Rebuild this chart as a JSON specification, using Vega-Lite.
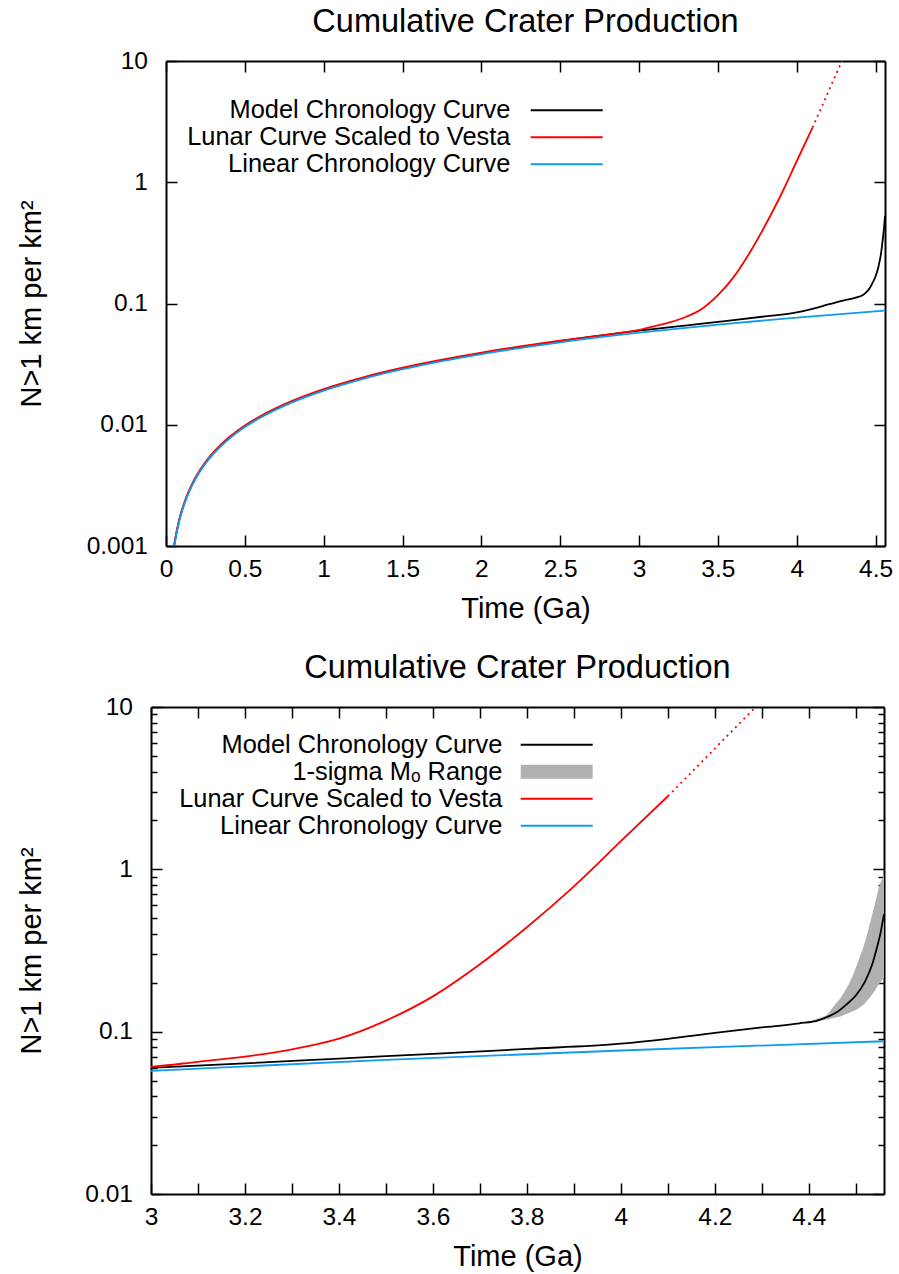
{
  "$schema": "https://vega.github.io/schema/vega-lite/v6.json",
  "background": "white",
  "padding": {"left": 17, "top": 5, "right": 10, "bottom": 4},
  "columns": 1,
  "spacing": 27,
  "resolve": {"scale": {"color": "independent"}, "legend": {"color": "independent"}},
  "config": {
    "font": "Liberation Sans",
    "view": {"stroke": null},
    "axis": {"grid": false, "domainColor": "black", "domainWidth": 2, "tickColor": "black", "tickWidth": 1.5, "labelColor": "black", "titleColor": "black", "labelFont": "Liberation Sans", "titleFont": "Liberation Sans", "labelFontSize": 24.5, "titleFontSize": 29, "titleFontWeight": "normal", "labelFlush": false, "labelOverlap": false, "tickSize": -11},
    "axisX": {"labelPadding": 22, "titlePadding": 14},
    "axisY": {"labelPadding": 29.5},
    "title": {"fontSize": 32.5, "fontWeight": "normal", "color": "black", "font": "Liberation Sans", "frame": "group", "anchor": "middle", "offset": 10},
    "legend": {"orient": "none", "title": null, "labelFontSize": 25.4, "labelFont": "Liberation Sans", "labelColor": "black", "labelLimit": 500, "rowPadding": 0, "padding": 0, "symbolOffset": 0}
  },
  "datasets": {
    "curves": [
      {"t": 0.04, "N": 0.000773, "s": "Model Chronology Curve"},
      {"t": 0.05, "N": 0.000966, "s": "Model Chronology Curve"},
      {"t": 0.06, "N": 0.001159, "s": "Model Chronology Curve"},
      {"t": 0.08, "N": 0.001545, "s": "Model Chronology Curve"},
      {"t": 0.1, "N": 0.001932, "s": "Model Chronology Curve"},
      {"t": 0.13, "N": 0.00251, "s": "Model Chronology Curve"},
      {"t": 0.16, "N": 0.00309, "s": "Model Chronology Curve"},
      {"t": 0.2, "N": 0.00386, "s": "Model Chronology Curve"},
      {"t": 0.25, "N": 0.00483, "s": "Model Chronology Curve"},
      {"t": 0.3, "N": 0.0058, "s": "Model Chronology Curve"},
      {"t": 0.4, "N": 0.00773, "s": "Model Chronology Curve"},
      {"t": 0.5, "N": 0.00966, "s": "Model Chronology Curve"},
      {"t": 0.6, "N": 0.01159, "s": "Model Chronology Curve"},
      {"t": 0.8, "N": 0.01545, "s": "Model Chronology Curve"},
      {"t": 1.0, "N": 0.01932, "s": "Model Chronology Curve"},
      {"t": 1.25, "N": 0.02415, "s": "Model Chronology Curve"},
      {"t": 1.5, "N": 0.02898, "s": "Model Chronology Curve"},
      {"t": 1.75, "N": 0.0339, "s": "Model Chronology Curve"},
      {"t": 2.0, "N": 0.0388, "s": "Model Chronology Curve"},
      {"t": 2.5, "N": 0.049, "s": "Model Chronology Curve"},
      {"t": 3.0, "N": 0.0598, "s": "Model Chronology Curve"},
      {"t": 3.2, "N": 0.0638, "s": "Model Chronology Curve"},
      {"t": 3.4, "N": 0.0683, "s": "Model Chronology Curve"},
      {"t": 3.6, "N": 0.073, "s": "Model Chronology Curve"},
      {"t": 3.8, "N": 0.0783, "s": "Model Chronology Curve"},
      {"t": 4.0, "N": 0.0844, "s": "Model Chronology Curve"},
      {"t": 4.1, "N": 0.0904, "s": "Model Chronology Curve"},
      {"t": 4.2, "N": 0.0982, "s": "Model Chronology Curve"},
      {"t": 4.3, "N": 0.1062, "s": "Model Chronology Curve"},
      {"t": 4.38, "N": 0.1125, "s": "Model Chronology Curve"},
      {"t": 4.42, "N": 0.1175, "s": "Model Chronology Curve"},
      {"t": 4.44, "N": 0.1235, "s": "Model Chronology Curve"},
      {"t": 4.46, "N": 0.132, "s": "Model Chronology Curve"},
      {"t": 4.48, "N": 0.147, "s": "Model Chronology Curve"},
      {"t": 4.5, "N": 0.167, "s": "Model Chronology Curve"},
      {"t": 4.52, "N": 0.205, "s": "Model Chronology Curve"},
      {"t": 4.535, "N": 0.26, "s": "Model Chronology Curve"},
      {"t": 4.545, "N": 0.33, "s": "Model Chronology Curve"},
      {"t": 4.553, "N": 0.41, "s": "Model Chronology Curve"},
      {"t": 4.56, "N": 0.53, "s": "Model Chronology Curve"},
      {"t": 0.04, "N": 0.000788, "s": "Lunar Curve Scaled to Vesta"},
      {"t": 0.05, "N": 0.000985, "s": "Lunar Curve Scaled to Vesta"},
      {"t": 0.06, "N": 0.001182, "s": "Lunar Curve Scaled to Vesta"},
      {"t": 0.08, "N": 0.001576, "s": "Lunar Curve Scaled to Vesta"},
      {"t": 0.1, "N": 0.00197, "s": "Lunar Curve Scaled to Vesta"},
      {"t": 0.13, "N": 0.002561, "s": "Lunar Curve Scaled to Vesta"},
      {"t": 0.16, "N": 0.003152, "s": "Lunar Curve Scaled to Vesta"},
      {"t": 0.2, "N": 0.00394, "s": "Lunar Curve Scaled to Vesta"},
      {"t": 0.25, "N": 0.004925, "s": "Lunar Curve Scaled to Vesta"},
      {"t": 0.3, "N": 0.00591, "s": "Lunar Curve Scaled to Vesta"},
      {"t": 0.4, "N": 0.00788, "s": "Lunar Curve Scaled to Vesta"},
      {"t": 0.5, "N": 0.00985, "s": "Lunar Curve Scaled to Vesta"},
      {"t": 0.6, "N": 0.01182, "s": "Lunar Curve Scaled to Vesta"},
      {"t": 0.8, "N": 0.01576, "s": "Lunar Curve Scaled to Vesta"},
      {"t": 1.0, "N": 0.0197, "s": "Lunar Curve Scaled to Vesta"},
      {"t": 1.25, "N": 0.02463, "s": "Lunar Curve Scaled to Vesta"},
      {"t": 1.5, "N": 0.02955, "s": "Lunar Curve Scaled to Vesta"},
      {"t": 1.75, "N": 0.03448, "s": "Lunar Curve Scaled to Vesta"},
      {"t": 2.0, "N": 0.0394, "s": "Lunar Curve Scaled to Vesta"},
      {"t": 2.5, "N": 0.04929, "s": "Lunar Curve Scaled to Vesta"},
      {"t": 2.75, "N": 0.05441, "s": "Lunar Curve Scaled to Vesta"},
      {"t": 3.0, "N": 0.0606, "s": "Lunar Curve Scaled to Vesta"},
      {"t": 3.1, "N": 0.0652, "s": "Lunar Curve Scaled to Vesta"},
      {"t": 3.2, "N": 0.0702, "s": "Lunar Curve Scaled to Vesta"},
      {"t": 3.3, "N": 0.0778, "s": "Lunar Curve Scaled to Vesta"},
      {"t": 3.4, "N": 0.0905, "s": "Lunar Curve Scaled to Vesta"},
      {"t": 3.5, "N": 0.117, "s": "Lunar Curve Scaled to Vesta"},
      {"t": 3.6, "N": 0.165, "s": "Lunar Curve Scaled to Vesta"},
      {"t": 3.7, "N": 0.26, "s": "Lunar Curve Scaled to Vesta"},
      {"t": 3.8, "N": 0.44, "s": "Lunar Curve Scaled to Vesta"},
      {"t": 3.9, "N": 0.785, "s": "Lunar Curve Scaled to Vesta"},
      {"t": 4.0, "N": 1.49, "s": "Lunar Curve Scaled to Vesta"},
      {"t": 4.1, "N": 2.82, "s": "Lunar Curve Scaled to Vesta"},
      {"t": 0.04, "N": 0.000766, "s": "Linear Chronology Curve"},
      {"t": 0.05, "N": 0.000957, "s": "Linear Chronology Curve"},
      {"t": 0.06, "N": 0.001148, "s": "Linear Chronology Curve"},
      {"t": 0.08, "N": 0.001531, "s": "Linear Chronology Curve"},
      {"t": 0.1, "N": 0.001914, "s": "Linear Chronology Curve"},
      {"t": 0.13, "N": 0.002488, "s": "Linear Chronology Curve"},
      {"t": 0.16, "N": 0.003062, "s": "Linear Chronology Curve"},
      {"t": 0.2, "N": 0.003828, "s": "Linear Chronology Curve"},
      {"t": 0.25, "N": 0.004785, "s": "Linear Chronology Curve"},
      {"t": 0.3, "N": 0.005742, "s": "Linear Chronology Curve"},
      {"t": 0.4, "N": 0.007656, "s": "Linear Chronology Curve"},
      {"t": 0.5, "N": 0.00957, "s": "Linear Chronology Curve"},
      {"t": 0.6, "N": 0.01148, "s": "Linear Chronology Curve"},
      {"t": 0.8, "N": 0.01531, "s": "Linear Chronology Curve"},
      {"t": 1.0, "N": 0.01914, "s": "Linear Chronology Curve"},
      {"t": 1.25, "N": 0.02393, "s": "Linear Chronology Curve"},
      {"t": 1.5, "N": 0.02871, "s": "Linear Chronology Curve"},
      {"t": 1.75, "N": 0.0335, "s": "Linear Chronology Curve"},
      {"t": 2.0, "N": 0.03828, "s": "Linear Chronology Curve"},
      {"t": 2.5, "N": 0.04785, "s": "Linear Chronology Curve"},
      {"t": 3.0, "N": 0.05742, "s": "Linear Chronology Curve"},
      {"t": 3.5, "N": 0.06699, "s": "Linear Chronology Curve"},
      {"t": 4.0, "N": 0.07656, "s": "Linear Chronology Curve"},
      {"t": 4.56, "N": 0.08728, "s": "Linear Chronology Curve"}
    ],
    "dotted": [
      {"t": 4.1, "N": 2.82},
      {"t": 4.15, "N": 3.95},
      {"t": 4.2, "N": 5.55},
      {"t": 4.25, "N": 7.8},
      {"t": 4.3, "N": 10.9}
    ],
    "band": [
      {"t": 4.4, "lo": 0.1145, "hi": 0.1145},
      {"t": 4.42, "lo": 0.1165, "hi": 0.121},
      {"t": 4.44, "lo": 0.119, "hi": 0.128},
      {"t": 4.45, "lo": 0.121, "hi": 0.14},
      {"t": 4.47, "lo": 0.125, "hi": 0.165},
      {"t": 4.49, "lo": 0.132, "hi": 0.21},
      {"t": 4.507, "lo": 0.14, "hi": 0.28},
      {"t": 4.52, "lo": 0.15, "hi": 0.36},
      {"t": 4.528, "lo": 0.16, "hi": 0.44},
      {"t": 4.54, "lo": 0.178, "hi": 0.6},
      {"t": 4.549, "lo": 0.195, "hi": 0.77},
      {"t": 4.56, "lo": 0.215, "hi": 0.93}
    ]
  },
  "concat": [
    {
      "title": {"text": "Cumulative Crater Production", "dx": 7.5},
      "width": 734,
      "height": 485,
      "resolve": {"axis": {"x": "independent", "y": "independent"}},
      "layer": [
        {
          "data": {"name": "curves"},
          "mark": {"type": "line", "strokeWidth": 1.8, "clip": true, "interpolate": "monotone"},
          "encoding": {
            "x": {"field": "t", "type": "quantitative", "scale": {"domain": [0, 4.56], "range": [15, 734], "nice": false, "zero": false},
                  "axis": {"orient": "bottom", "title": "Time (Ga)", "values": [0, 0.5, 1, 1.5, 2, 2.5, 3, 3.5, 4, 4.5], "format": "~g"}},
            "y": {"field": "N", "type": "quantitative", "scale": {"type": "log", "domain": [0.001, 10], "nice": false},
                  "axis": {"orient": "left", "offset": -15, "title": "N>1 km per km²", "titleX": -120, "values": [0.001, 0.01, 0.1, 1, 10], "format": "~g"}},
            "color": {"field": "s", "type": "nominal", "sort": null,
                      "scale": {"domain": ["Model Chronology Curve", "Lunar Curve Scaled to Vesta", "Linear Chronology Curve"], "range": ["#000000", "#ff0000", "#0f9bf0"]},
                      "legend": {"legendX": 403, "legendY": 36.5, "symbolType": "M-3.6,0H3.6", "symbolSize": 400, "symbolStrokeWidth": 2, "labelAlign": "right", "labelBaseline": "middle", "labelOffset": -69}}
          }
        },
        {
          "data": {"name": "dotted"},
          "mark": {"type": "line", "strokeWidth": 1.8, "clip": true, "strokeDash": [2, 4], "color": "#ff0000", "interpolate": "monotone"},
          "encoding": {
            "x": {"field": "t", "type": "quantitative", "axis": {"orient": "top", "title": null, "labels": false, "values": [0, 0.5, 1, 1.5, 2, 2.5, 3, 3.5, 4, 4.5]}},
            "y": {"field": "N", "type": "quantitative", "axis": {"orient": "right", "title": null, "labels": false, "values": [0.001, 0.01, 0.1, 1, 10]}}
          }
        }
      ]
    },
    {
      "title": "Cumulative Crater Production",
      "width": 733,
      "height": 487,
      "resolve": {"axis": {"x": "independent", "y": "independent"}},
      "layer": [
        {
          "data": {"name": "band"},
          "mark": {"type": "area", "clip": true, "color": "#b0b0b0", "interpolate": "monotone"},
          "encoding": {
            "x": {"field": "t", "type": "quantitative", "axis": null},
            "y": {"field": "lo", "type": "quantitative", "axis": null},
            "y2": {"field": "hi"}
          }
        },
        {
          "data": {"name": "curves"},
          "mark": {"type": "line", "strokeWidth": 1.8, "clip": true, "interpolate": "monotone"},
          "encoding": {
            "x": {"field": "t", "type": "quantitative", "scale": {"domain": [3, 4.56], "nice": false, "zero": false},
                  "axis": {"orient": "bottom", "title": "Time (Ga)", "values": [3, 3.1, 3.2, 3.3, 3.4, 3.5, 3.6, 3.7, 3.8, 3.9, 4, 4.1, 4.2, 4.3, 4.4, 4.5],
                           "labelExpr": "round(datum.value*10) % 2 == 0 ? format(datum.value, '~g') : ''"}},
            "y": {"field": "N", "type": "quantitative", "scale": {"type": "log", "domain": [0.01, 10], "nice": false},
                  "axis": {"orient": "left", "title": "N>1 km per km²", "titleX": -105,
                           "values": [0.01, 0.02, 0.03, 0.04, 0.05, 0.06, 0.07, 0.08, 0.09, 0.1, 0.2, 0.3, 0.4, 0.5, 0.6, 0.7, 0.8, 0.9, 1, 2, 3, 4, 5, 6, 7, 8, 9, 10],
                           "labelExpr": "indexof([0.01, 0.1, 1, 10], datum.value) >= 0 ? format(datum.value, '~g') : ''",
                           "tickSize": {"condition": {"test": "indexof([0.01, 0.1, 1, 10], datum.value) >= 0", "value": -11}, "value": -6}}},
            "color": {"field": "s", "type": "nominal", "sort": null,
                      "scale": {"domain": ["Model Chronology Curve", "1-sigma Mₒ Range", "Lunar Curve Scaled to Vesta", "Linear Chronology Curve"], "range": ["#000000", "#b0b0b0", "#ff0000", "#0f9bf0"]},
                      "legend": {"legendX": 393, "legendY": 25, "symbolType": "M-3.6,0H3.6", "symbolSize": 400, "symbolStrokeWidth": 2, "labelAlign": "right", "labelBaseline": "middle", "labelOffset": -67,
                                 "encode": {"symbols": {"update": {
                                   "shape": {"signal": "datum.label == '1-sigma Mₒ Range' ? 'M-3.6,-0.7H3.6V0.7H-3.6Z' : 'M-3.6,0H3.6'"},
                                   "fill": {"signal": "datum.label == '1-sigma Mₒ Range' ? '#b0b0b0' : 'transparent'"},
                                   "strokeWidth": {"signal": "datum.label == '1-sigma Mₒ Range' ? 0 : 2"}}}}}}
          }
        },
        {
          "data": {"name": "dotted"},
          "mark": {"type": "line", "strokeWidth": 1.8, "clip": true, "strokeDash": [2, 4], "color": "#ff0000", "interpolate": "monotone"},
          "encoding": {
            "x": {"field": "t", "type": "quantitative", "axis": {"orient": "top", "title": null, "labels": false, "values": [3, 3.1, 3.2, 3.3, 3.4, 3.5, 3.6, 3.7, 3.8, 3.9, 4, 4.1, 4.2, 4.3, 4.4, 4.5]}},
            "y": {"field": "N", "type": "quantitative", "axis": {"orient": "right", "title": null, "labels": false,
                  "values": [0.01, 0.02, 0.03, 0.04, 0.05, 0.06, 0.07, 0.08, 0.09, 0.1, 0.2, 0.3, 0.4, 0.5, 0.6, 0.7, 0.8, 0.9, 1, 2, 3, 4, 5, 6, 7, 8, 9, 10],
                  "tickSize": {"condition": {"test": "indexof([0.01, 0.1, 1, 10], datum.value) >= 0", "value": -11}, "value": -6}}}
          }
        }
      ]
    }
  ]
}
